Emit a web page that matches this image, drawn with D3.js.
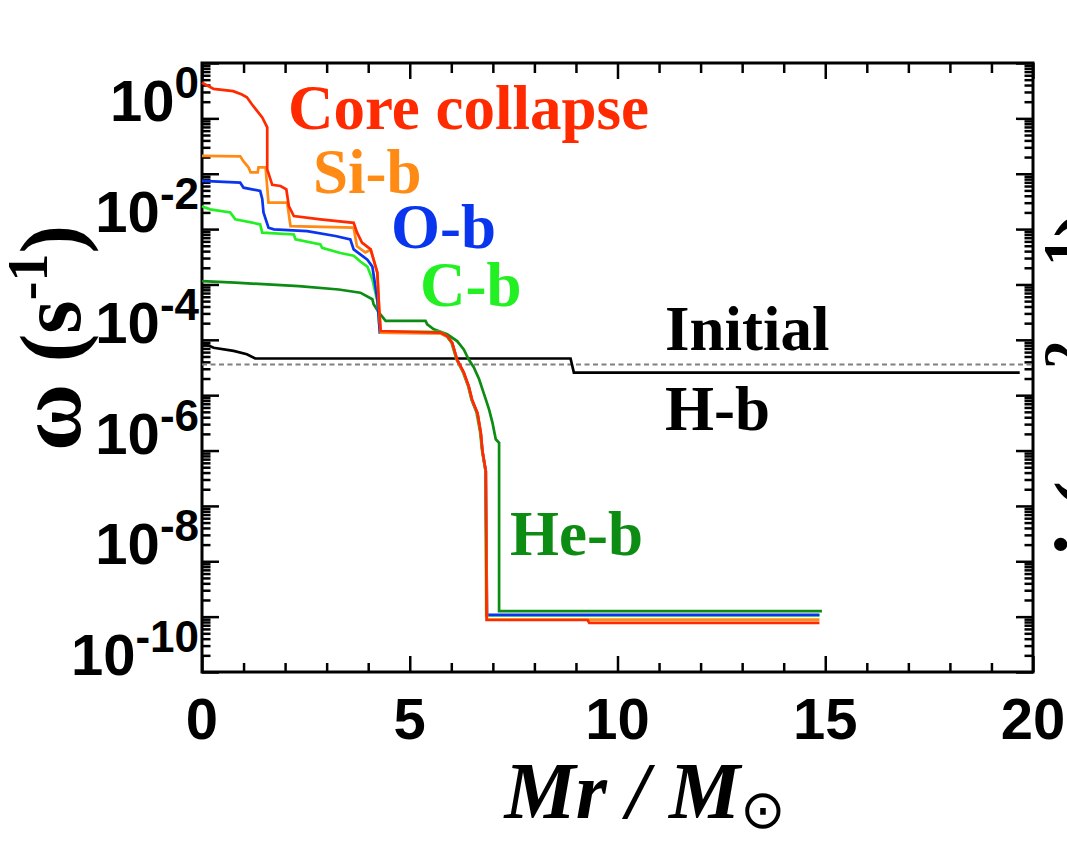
<!DOCTYPE html>
<html lang="en">
<head>
<meta charset="utf-8">
<title>omega profile</title>
<script src="https://d3js.org/d3.v7.min.js"></script>
<style>
body { margin: 0; background: #fff; }
svg text { fill: #000; }
.num { font: bold 58px "Liberation Sans", Arial, sans-serif; }
.lbl { font-family: "Liberation Serif", "Times New Roman", serif; font-weight: bold; }
</style>
</head>
<body>
<script>
// x = Mr / Msun, y = omega (s^-1)
var coreCollapse = [[0,4.4],[0.28,3.4],[0.75,3.1],[0.96,2.7],[1.08,2.4],[1.2,1.8],[1.33,1.35],[1.45,1.04],[1.57,0.69],[1.57,0.12],
  [1.69,0.063],[1.89,0.06],[2.03,0.052],[2.09,0.026],[2.21,0.0172],[2.85,0.015],[3.65,0.013],[3.73,0.0087],[3.85,0.0057],
  [4.06,0.0043],[4.13,0.0028],[4.22,0.00165],[4.26,4.1e-4],[4.30,1.44e-4],[5.74,1.35e-4],[5.9,1.17e-4],[6.02,8.9e-5],
  [6.14,4.4e-5],[6.3,2.6e-5],[6.42,1.46e-5],[6.5,8.3e-6],[6.63,4.8e-6],[6.71,2.1e-6],[6.75,9.8e-7],[6.83,4.3e-7],
  [6.85,8.7e-10],[9.28,8.7e-10],[9.32,7.7e-10],[14.86,7.7e-10]];
var siBurning = [[0,0.21],[0.92,0.206],[1.0,0.167],[1.12,0.13],[1.17,0.106],[1.34,0.106],[1.36,0.13],[1.53,0.13],[1.6,0.03],
  [2.05,0.03],[2.13,0.0113],[3.65,0.0106],[3.73,0.0049],[3.93,0.0038],[4.06,0.0042],[4.13,0.0028],[4.22,0.0016],
  [4.26,4.0e-4],[4.30,1.35e-4],[5.74,1.3e-4],[5.9,1.15e-4],[6.02,8.8e-5],[6.14,4.3e-5],[6.3,2.5e-5],[6.42,1.4e-5],
  [6.5,8.1e-6],[6.63,4.7e-6],[6.71,2.0e-6],[6.75,9.6e-7],[6.83,4.2e-7],[6.86,8.8e-10],[14.86,8.8e-10]];
var oBurning = [[0,0.074],[0.92,0.069],[1.0,0.056],[1.4,0.049],[1.45,0.035],[1.48,0.02],[1.6,0.0106],[1.73,0.0099],
  [2.53,0.0092],[3.21,0.0075],[3.57,0.0065],[3.65,0.0043],[3.81,0.0035],[3.98,0.0028],[4.1,0.0021],[4.22,5.4e-4],
  [4.28,1.35e-4],[5.74,1.33e-4],[5.9,1.15e-4],[6.02,8.8e-5],[6.14,4.3e-5],[6.3,2.5e-5],[6.42,1.4e-5],[6.5,8e-6],
  [6.63,4.6e-6],[6.71,2e-6],[6.75,9.5e-7],[6.83,4.2e-7],[6.86,1.08e-9],[14.86,1.08e-9]];
var cBurning = [[0,0.026],[0.08,0.0244],[0.2,0.0227],[0.68,0.02],[0.8,0.015],[1.4,0.0122],[1.45,0.0086],[2.21,0.008],
  [2.25,0.0065],[2.85,0.0053],[2.89,0.0046],[3.33,0.0037],[3.65,0.0033],[3.81,0.0026],[3.98,0.0021],[4.1,0.00124],
  [4.22,5e-4],[4.28,1.4e-4],[5.74,1.4e-4],[5.88,1.2e-4],[6.0,9e-5],[6.12,4.5e-5],[6.28,2.6e-5],[6.4,1.5e-5],
  [6.48,8.5e-6],[6.6,5e-6],[6.69,2.2e-6],[6.74,1e-6],[6.82,4.4e-7],[6.84,1.05e-9],[14.86,1.05e-9]];
var heBurning = [[0,1.15e-3],[0.8,1.08e-3],[2.33,9.3e-4],[3.29,8.1e-4],[3.81,7.1e-4],[4.1,5.4e-4],[4.13,4.4e-4],
  [4.26,3.1e-4],[4.42,2.2e-4],[5.38,2.2e-4],[5.42,1.9e-4],[5.58,1.55e-4],[5.9,1.26e-4],[6.14,9.5e-5],[6.3,6.7e-5],
  [6.42,4.4e-5],[6.54,3.2e-5],[6.67,1.94e-5],[6.75,1.27e-5],[6.83,8.4e-6],[6.91,5.5e-6],[6.99,3.2e-6],[7.07,1.6e-6],
  [7.15,1.38e-6],[7.15,1.26e-9],[14.92,1.26e-9]];
var hBurning = [[0,8.9e-5],[0.28,7.2e-5],[0.76,6.3e-5],[1.08,5.5e-5],[1.28,4.6e-5],[8.87,4.6e-5],[8.95,2.56e-5],[19.68,2.56e-5]];
var initial = [[0,3.6e-5],[20,3.6e-5]];

var xTicks = [0, 5, 10, 15, 20];
var yExponents = [0, -2, -4, -6, -8, -10];

var W = 1067, H = 841;
var pLeft = 202, pRight = 1033, pTop = 63, pBottom = 672;

var svg = d3.select("body").append("svg")
  .attr("width", W)
  .attr("height", H);

var x = d3.scaleLinear().domain([0, 20]).range([pLeft, pRight]);
var y = d3.scaleLog().domain([1e-10, 10]).range([pBottom, pTop]);

// minor tick positions
var xMinor = d3.range(0, 21).filter(function (v) { return v % 5 != 0; });
var yMajor = d3.range(-10, 2).map(function (e) { return Math.pow(10, e); });
var yMinor = [];
d3.range(-10, 1).forEach(function (e) {
  for (var m = 2; m <= 9; m++) yMinor.push(m * Math.pow(10, e));
});

function tickAxis(axis, g) {
  g.call(axis);
  g.select(".domain").remove();
  g.selectAll(".tick line").attr("stroke", "#000").attr("stroke-width", 2.5);
  g.selectAll(".tick text").remove();
}

// bottom / top
tickAxis(d3.axisBottom(x).tickValues(xTicks).tickSize(-16), svg.append("g").attr("transform", "translate(0," + pBottom + ")"));
tickAxis(d3.axisBottom(x).tickValues(xMinor).tickSize(-9), svg.append("g").attr("transform", "translate(0," + pBottom + ")"));
tickAxis(d3.axisTop(x).tickValues(xTicks).tickSize(-16), svg.append("g").attr("transform", "translate(0," + pTop + ")"));
tickAxis(d3.axisTop(x).tickValues(xMinor).tickSize(-10), svg.append("g").attr("transform", "translate(0," + pTop + ")"));
// left / right
tickAxis(d3.axisLeft(y).tickValues(yMajor).tickSize(-17), svg.append("g").attr("transform", "translate(" + pLeft + ",0)"));
tickAxis(d3.axisLeft(y).tickValues(yMinor).tickSize(-8.5), svg.append("g").attr("transform", "translate(" + pLeft + ",0)"));
tickAxis(d3.axisRight(y).tickValues(yMajor).tickSize(-17), svg.append("g").attr("transform", "translate(" + pRight + ",0)"));
tickAxis(d3.axisRight(y).tickValues(yMinor).tickSize(-8.5), svg.append("g").attr("transform", "translate(" + pRight + ",0)"));

// frame
svg.append("rect")
  .attr("x", pLeft).attr("y", pTop)
  .attr("width", pRight - pLeft).attr("height", pBottom - pTop)
  .attr("fill", "none").attr("stroke", "#000").attr("stroke-width", 3);

// x tick labels
svg.selectAll("text.xt").data(xTicks).enter().append("text")
  .attr("class", "num xt")
  .attr("x", function (d) { return x(d); })
  .attr("y", 739)
  .attr("text-anchor", "middle")
  .text(function (d) { return d; });

// y tick labels 10^n
var yt = svg.selectAll("text.yt").data(yExponents).enter().append("text")
  .attr("class", "num yt")
  .attr("x", 199)
  .attr("y", function (d) { return y(Math.pow(10, d)) + 3; })
  .attr("text-anchor", "end");
yt.append("tspan").text("10");
yt.append("tspan").attr("dy", -23).attr("font-size", 44).text(function (d) { return d; });

// curves
var line = d3.line()
  .x(function (d) { return x(d[0]); })
  .y(function (d) { return y(d[1]); });

svg.append("path").datum(initial)
  .attr("d", line).attr("fill", "none")
  .attr("stroke", "#808080").attr("stroke-width", 2).attr("stroke-dasharray", "5,3.5");

var series = [
  { data: hBurning, color: "#000000" },
  { data: heBurning, color: "#0c8c12" },
  { data: cBurning, color: "#22f022" },
  { data: oBurning, color: "#0a35ee" },
  { data: siBurning, color: "#ff8a14" },
  { data: coreCollapse, color: "#ff2a00" }
];
svg.selectAll("path.curve").data(series).enter().append("path")
  .attr("class", "curve")
  .attr("d", function (s) { return line(s.data); })
  .attr("fill", "none")
  .attr("stroke", function (s) { return s.color; })
  .attr("stroke-width", 2.7);

// curve labels
var labels = [
  { t: "Core collapse", x: 288, y: 129, c: "#ff2a00" },
  { t: "Si-b", x: 313, y: 193, c: "#ff8a14" },
  { t: "O-b", x: 391, y: 248, c: "#0a35ee" },
  { t: "C-b", x: 420, y: 306, c: "#22f022" },
  { t: "Initial", x: 665, y: 350, c: "#000" },
  { t: "H-b", x: 665, y: 430, c: "#000" },
  { t: "He-b", x: 510, y: 555, c: "#0c8c12" }
];
svg.selectAll("text.cl").data(labels).enter().append("text")
  .attr("class", "lbl cl")
  .attr("x", function (d) { return d.x; })
  .attr("y", function (d) { return d.y; })
  .attr("font-size", 63)
  .style("fill", function (d) { return d.c; })
  .text(function (d) { return d.t; });

// axis titles
var yl = svg.append("text")
  .attr("class", "lbl")
  .attr("font-size", 86)
  .attr("text-anchor", "middle")
  .attr("transform", "translate(80,338) rotate(-90)");
yl.append("tspan").attr("font-size", 92).text("\u03c9");
yl.append("tspan").text(" (s");
yl.append("tspan").attr("dy", -33).attr("font-size", 56).text("-1");
yl.append("tspan").attr("dy", 33).text(")");

var xl = svg.append("text")
  .attr("class", "lbl")
  .attr("font-size", 80)
  .attr("font-style", "italic")
  .attr("text-anchor", "middle")
  .attr("x", 645).attr("y", 818);
xl.append("tspan").text("Mr / M");
xl.append("tspan").attr("dy", 10).attr("font-size", 54).attr("font-style", "normal")
  .attr("font-family", "DejaVu Sans").attr("font-weight", "normal").text("\u2299");

// title of the neighbouring panel, cut by the edge
var rl = svg.append("text")
  .attr("class", "lbl")
  .attr("font-size", 88)
  .attr("text-anchor", "middle")
  .attr("transform", "translate(1116,385) rotate(-90)");
rl.append("tspan").text("j (cm");
rl.append("tspan").attr("dy", -33).attr("font-size", 56).text("2");
rl.append("tspan").attr("dy", 33).text(" s");
rl.append("tspan").attr("dy", -33).attr("font-size", 56).text("-1");
rl.append("tspan").attr("dy", 33).text(")");
</script>
</body>
</html>
